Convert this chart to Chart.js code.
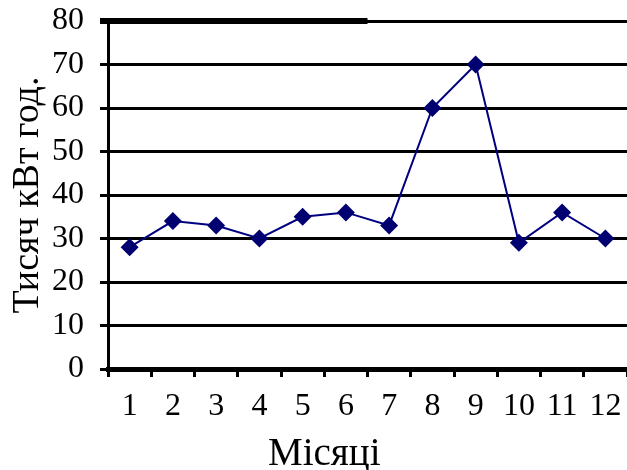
<!DOCTYPE html>
<html>
<head>
<meta charset="utf-8">
<script src="https://cdn.jsdelivr.net/npm/chart.js@4/dist/chart.umd.min.js"></script>
<style>
  html, body { margin: 0; padding: 0; background: #ffffff; }
  canvas { display: block; }
</style>
</head>
<body>
<canvas id="chart" width="627" height="470"></canvas>
<script>
// Monthly electricity consumption, thousand kWh
const months = ['1', '2', '3', '4', '5', '6', '7', '8', '9', '10', '11', '12'];
const consumption = [28, 34, 33, 30, 35, 36, 33, 60, 70, 29, 36, 30];
const yMin = 0;
const yMax = 80;
const yStep = 10;
const yAxisTitle = 'Тисяч кВт год.';
const xAxisTitle = 'Місяці';

const serif = '"Liberation Serif", "Times New Roman", serif';

// Heavier stroke over the left part of the top border, and the x caption
const frameExtras = {
  id: 'frameExtras',
  beforeDatasetsDraw(chart) {
    const { ctx, chartArea, scales } = chart;
    const x = scales.x;
    const yTop = scales.y.getPixelForValue(yMax);
    ctx.save();
    ctx.strokeStyle = '#000000';
    ctx.lineWidth = 6;
    ctx.beginPath();
    ctx.moveTo(chartArea.left - 8, yTop);
    ctx.lineTo(x.getPixelForValue(5.5), yTop);
    ctx.stroke();
    ctx.restore();
  },
  afterDraw(chart) {
    const { ctx, scales } = chart;
    const x = scales.x;
    const cx = (x.getPixelForValue(4) + x.getPixelForValue(5)) / 2;
    ctx.save();
    ctx.fillStyle = '#000000';
    ctx.font = '39px ' + serif;
    ctx.textAlign = 'center';
    ctx.textBaseline = 'alphabetic';
    ctx.fillText(xAxisTitle, cx, x.bottom - 5);
    ctx.restore();
  }
};

new Chart(document.getElementById('chart'), {
  type: 'line',
  data: {
    labels: months,
    datasets: [{
      data: consumption,
      borderColor: '#000080',
      borderWidth: 2,
      backgroundColor: '#000070',
      pointStyle: 'rectRot',
      pointRadius: 9,
      pointHoverRadius: 9,
      pointBorderWidth: 0,
      pointBackgroundColor: '#000070',
      tension: 0,
      fill: false
    }]
  },
  options: {
    responsive: false,
    animation: false,
    events: [],
    layout: {
      autoPadding: false,
      padding: { top: 21, right: 0, bottom: 0, left: 0 }
    },
    plugins: {
      legend: { display: false },
      tooltip: { enabled: false },
      title: { display: false }
    },
    scales: {
      x: {
        type: 'category',
        offset: true,
        grid: {
          offset: true,
          drawOnChartArea: false,
          drawTicks: true,
          tickLength: 8,
          tickWidth: 3,
          tickColor: '#000000'
        },
        border: { display: true, color: '#000000', width: 5 },
        ticks: {
          color: '#000000',
          font: { family: serif, size: 32 },
          padding: 10,
          maxRotation: 0,
          autoSkip: false
        },
        afterFit(scale) {
          scale.height = 101;
          scale.paddingLeft = 0;
          scale.paddingRight = 0;
        }
      },
      y: {
        min: yMin,
        max: yMax,
        grid: {
          color: '#000000',
          lineWidth: 3,
          drawTicks: true,
          tickLength: 8
        },
        border: { display: true, color: '#000000', width: 3 },
        ticks: {
          stepSize: yStep,
          color: '#000000',
          font: { family: serif, size: 32 },
          padding: 16
        },
        title: {
          display: true,
          text: yAxisTitle,
          color: '#000000',
          font: { family: serif, size: 38 },
          padding: { top: 5, bottom: 0 }
        },
        afterFit(scale) {
          scale.width = 108;
          scale.paddingTop = 0;
          scale.paddingBottom = 0;
        }
      }
    }
  },
  plugins: [frameExtras]
});
</script>
</body>
</html>
